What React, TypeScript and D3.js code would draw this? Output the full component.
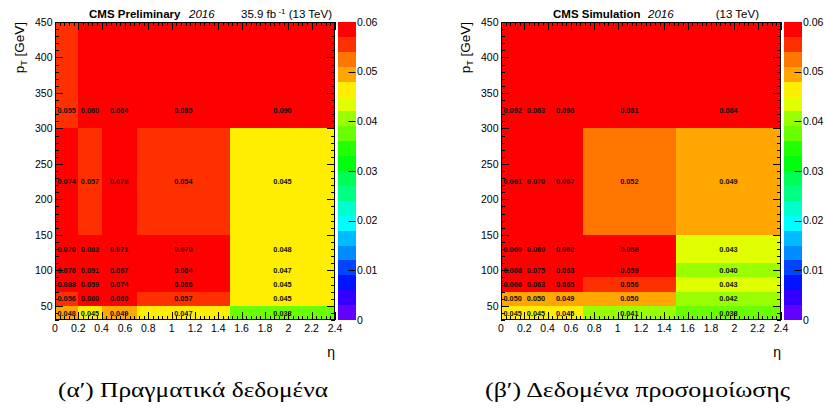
import React from "react";
import * as d3 from "d3";

// Bin edges of the efficiency maps
const etaEdges = [0, 0.2, 0.4, 0.7, 1.5, 2.4];
const ptEdges = [30, 50, 70, 90, 110, 150, 300, 450];
// pT positions where the cell values are printed (one per pT row)
const ptTextCenters = [40, 60, 80, 100, 130, 225, 325];

// Rows: pT bins from low to high; columns: eta bins
const dataValues = [
  [0.048, 0.045, 0.049, 0.047, 0.038],
  [0.056, 0.06, 0.06, 0.0567, 0.045],
  [0.088, 0.059, 0.074, 0.066, 0.045],
  [0.076, 0.091, 0.067, 0.064, 0.047],
  [0.07, 0.083, 0.071, 0.07, 0.0478],
  [0.074, 0.0567, 0.078, 0.054, 0.045],
  [0.055, 0.06, 0.064, 0.085, 0.09],
];
const simValues = [
  [0.045, 0.045, 0.045, 0.041, 0.038],
  [0.05, 0.05, 0.049, 0.05, 0.0418],
  [0.066, 0.063, 0.065, 0.056, 0.043],
  [0.068, 0.075, 0.063, 0.059, 0.04],
  [0.069, 0.069, 0.062, 0.058, 0.043],
  [0.061, 0.07, 0.067, 0.052, 0.049],
  [0.092, 0.063, 0.096, 0.081, 0.084],
];

const xTickValues = [0, 0.2, 0.4, 0.6, 0.8, 1, 1.2, 1.4, 1.6, 1.8, 2, 2.2, 2.4];
const yTickValues = [50, 100, 150, 200, 250, 300, 350, 400, 450];
const zTickValues = [0, 0.01, 0.02, 0.03, 0.04, 0.05, 0.06];

const Z_MAX = 0.06;
const N_CONTOURS = 20;

// ROOT "pretty" palette (50 HLS colours, violet -> red) sampled for 20 contours
const palette = d3.range(N_CONTOURS).map((k) => {
  const idx = Math.floor(((k + 0.99) * 50) / N_CONTOURS);
  const hue = 280 - (idx + 1) * 5.6;
  return d3.hsl(hue, 1, 0.5).formatHex();
});
const colorScale = d3
  .scaleThreshold<number, string>()
  .domain(d3.range(1, N_CONTOURS).map((i) => (i * 3) / 1000))
  .range(palette);

const SANS = "'Liberation Sans', Arial, Helvetica, sans-serif";
const SERIF = "'Liberation Serif', 'DejaVu Serif', serif";

const PLOT_TOP = 22;
const PLOT_BOTTOM = 320;
const PLOT_W = 280;

type PanelProps = {
  left: number;
  values: number[][];
  title: React.ReactNode;
  caption: string;
  captionWidth: number;
  captionCenter: number;
};

function fmtTick(v: number) {
  return String(+v.toFixed(2));
}

function Panel({ left, values, title, caption, captionWidth, captionCenter }: PanelProps) {
  const x = d3.scaleLinear().domain([0, 2.4]).range([left, left + PLOT_W]);
  const y = d3.scaleLinear().domain([30, 450]).range([PLOT_BOTTOM, PLOT_TOP]);
  const right = left + PLOT_W;
  const cbX0 = right + 2.5;
  const cbX1 = right + 20.5;
  const z = d3.scaleLinear().domain([0, Z_MAX]).range([PLOT_BOTTOM, PLOT_TOP]);

  const xMinor = d3.range(0, 61).map((i) => i * 0.04);
  const yMinor = d3.range(3, 46).map((i) => i * 10);

  const cells: React.ReactNode[] = [];
  const labels: React.ReactNode[] = [];
  values.forEach((row, r) => {
    row.forEach((v, c) => {
      const x0 = x(etaEdges[c]);
      const x1 = x(etaEdges[c + 1]);
      const y0 = y(ptEdges[r + 1]);
      const y1 = y(ptEdges[r]);
      cells.push(
        <rect
          key={`c${r}-${c}`}
          x={x0}
          y={y0}
          width={x1 - x0}
          height={y1 - y0}
          fill={colorScale(v)}
          shapeRendering="crispEdges"
        />
      );
      labels.push(
        <text
          key={`t${r}-${c}`}
          x={(x0 + x1) / 2}
          y={y(ptTextCenters[r]) + 2.6}
          textAnchor="middle"
          fontSize={7.3}
          fontWeight="bold"
          fontFamily={SANS}
          fill="#111"
        >
          {v.toFixed(3)}
        </text>
      );
    });
  });

  return (
    <g>
      {cells}
      {/* x-axis ticks, bottom and top */}
      {xMinor.map((v, i) => {
        const major = i % 5 === 0;
        const len = major ? 8 : 4;
        const px = Math.round(x(v)) + 0.5;
        return (
          <g key={`xt${i}`} stroke="#000" strokeWidth={1}>
            <line x1={px} x2={px} y1={PLOT_BOTTOM} y2={PLOT_BOTTOM - len} />
            <line x1={px} x2={px} y1={PLOT_TOP} y2={PLOT_TOP + len} />
          </g>
        );
      })}
      {/* y-axis ticks, left and right */}
      {yMinor.map((v) => {
        const major = v % 50 === 0;
        const len = major ? 8 : 4;
        const py = Math.round(y(v)) + 0.5;
        return (
          <g key={`yt${v}`} stroke="#000" strokeWidth={1}>
            <line x1={left} x2={left + len} y1={py} y2={py} />
            <line x1={right} x2={right - len} y1={py} y2={py} />
          </g>
        );
      })}
      {labels}
      <rect
        x={left + 0.5}
        y={PLOT_TOP + 0.5}
        width={PLOT_W - 1}
        height={PLOT_BOTTOM - PLOT_TOP - 1}
        fill="none"
        stroke="#000"
        strokeWidth={1}
      />
      {/* tick labels */}
      {xTickValues.map((v) => (
        <text
          key={`xl${v}`}
          x={x(v)}
          y={332}
          textAnchor="middle"
          fontSize={10.5}
          fontFamily={SANS}
        >
          {fmtTick(v)}
        </text>
      ))}
      {yTickValues.map((v) => (
        <text
          key={`yl${v}`}
          x={left - 2.5}
          y={y(v) + 3.8}
          textAnchor="end"
          fontSize={10.5}
          fontFamily={SANS}
        >
          {v}
        </text>
      ))}
      {/* axis titles */}
      <text x={right} y={357} textAnchor="end" fontSize={14} fontFamily={SANS}>
        η
      </text>
      <text
        transform={`translate(${left - 31},${PLOT_TOP}) rotate(-90)`}
        textAnchor="end"
        fontSize={13.5}
        fontFamily={SANS}
      >
        p<tspan dy={3} fontSize={9}>T</tspan>
        <tspan dy={-3}> [GeV]</tspan>
      </text>
      {/* colour bar */}
      {palette.map((col, k) => (
        <rect
          key={`cb${k}`}
          x={cbX0}
          y={z(((k + 1) * 3) / 1000)}
          width={cbX1 - cbX0}
          height={z((k * 3) / 1000) - z(((k + 1) * 3) / 1000)}
          fill={col}
          shapeRendering="crispEdges"
        />
      ))}
      {zTickValues.map((v) => (
        <g key={`zt${v}`}>
          {v > 0 && v < Z_MAX ? (
            <line
              x1={cbX1}
              x2={cbX1 - 7}
              y1={Math.round(z(v)) + 0.5}
              y2={Math.round(z(v)) + 0.5}
              stroke="#000"
              strokeWidth={1}
            />
          ) : null}
          <text x={cbX1 + 1.5} y={z(v) + 3.8} fontSize={10.5} fontFamily={SANS}>
            {fmtTick(v)}
          </text>
        </g>
      ))}
      {title}
      <text
        x={captionCenter}
        y={397}
        textAnchor="middle"
        fontSize={22}
        fontFamily={SERIF}
        textLength={captionWidth}
        lengthAdjust="spacingAndGlyphs"
      >
        {caption}
      </text>
    </g>
  );
}

export default function App() {
  return (
    <svg
      width={825}
      height={411}
      viewBox="0 0 825 411"
      style={{ position: "absolute", left: 0, top: 0, background: "#fff" }}
    >
      <rect x={0} y={0} width={825} height={411} fill="#fff" />
      <Panel
        left={55}
        values={dataValues}
        caption="(α′) Πραγματικά δεδομένα"
        captionWidth={270}
        captionCenter={193}
        title={
          <g fontFamily={SANS} fontSize={11.5}>
            <text x={89} y={18} fontWeight="bold">
              CMS Preliminary
            </text>
            <text x={189} y={18} fontStyle="italic">
              2016
            </text>
            <text x={332} y={18} textAnchor="end">
              35.9 fb
              <tspan dy={-4} fontSize={8}>
                {" -1"}
              </tspan>
              <tspan dy={4}> (13 TeV)</tspan>
            </text>
          </g>
        }
      />
      <Panel
        left={501}
        values={simValues}
        caption="(β′) Δεδομένα προσομοίωσης"
        captionWidth={305}
        captionCenter={637.5}
        title={
          <g fontFamily={SANS} fontSize={11.5}>
            <text x={553} y={18} fontWeight="bold">
              CMS Simulation
            </text>
            <text x={648} y={18} fontStyle="italic">
              2016
            </text>
            <text x={759} y={18} textAnchor="end">
              (13 TeV)
            </text>
          </g>
        }
      />
    </svg>
  );
}
